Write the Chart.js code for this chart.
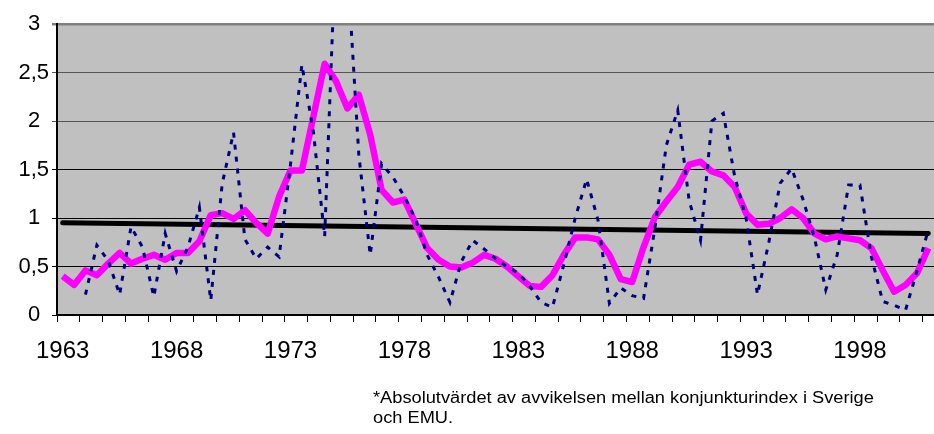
<!DOCTYPE html>
<html>
<head>
<meta charset="utf-8">
<script src="https://cdn.jsdelivr.net/npm/chart.js@4.4.1/dist/chart.umd.min.js"></script>
<style>
  html, body { margin: 0; padding: 0; background: #fff; }
  #wrap { position: relative; width: 934px; height: 434px; overflow: hidden; }
  #note {
    position: absolute; left: 373px; top: 388px;
    font-family: "Liberation Sans", Arial, sans-serif; font-size: 16px; line-height: 20px;
    color: #000; white-space: nowrap;
    transform: scaleX(1.14); transform-origin: 0 0;
  }
</style>
</head>
<body>
<div id="wrap">
  <canvas id="chart" width="934" height="434"></canvas>
  <div id="note">*Absolutvärdet av avvikelsen mellan konjunkturindex i Sverige<br>och EMU.</div>
</div>
<script>
// half-year periods, 1963 H1 .. 2001 H1
const firstYear = 1963;
const periodCount = 77;
const categories = [];
for (let i = 0; i < periodCount; i++) {
  categories.push((firstYear + Math.floor(i / 2)) + ':' + (i % 2 + 1));
}

const tickLabels = ['1963', '1968', '1973', '1978', '1983', '1988', '1993', '1998'];
const yTicks = [0, 0.5, 1, 1.5, 2, 2.5, 3];

// raw deviation (dotted)
const deviation = [
  null, null, 0.21, 0.72, 0.56, 0.21, 0.91, 0.70, 0.19, 0.84,
  0.45, 0.70, 1.11, 0.15, 1.35, 1.88, 0.78, 0.58, 0.70, 0.60,
  1.55, 2.58, 1.90, 0.81, 3.90, 3.60, 1.65, 0.62, 1.56, 1.42,
  1.22, 0.98, 0.62, 0.39, 0.13, 0.55, 0.77, 0.68, 0.58, 0.50,
  0.43, 0.30, 0.13, 0.08, 0.52, 1.00, 1.40, 0.98, 0.12, 0.28,
  0.20, 0.17, 0.90, 1.75, 2.11, 1.18, 0.77, 2.00, 2.08, 1.43,
  1.00, 0.21, 0.75, 1.36, 1.51, 1.19, 0.80, 0.26, 0.62, 1.34,
  1.34, 0.60, 0.14, 0.10, 0.05, 0.45, 0.88
];

// smoothed (magenta)
const smoothed = [
  0.40, 0.31, 0.46, 0.41, 0.53, 0.64, 0.53, 0.58, 0.62, 0.57,
  0.64, 0.64, 0.76, 1.03, 1.05, 0.99, 1.08, 0.95, 0.84, 1.22,
  1.49, 1.49, 2.04, 2.59, 2.41, 2.13, 2.27, 1.86, 1.29, 1.16,
  1.19, 0.94, 0.69, 0.57, 0.50, 0.49, 0.54, 0.62, 0.58, 0.50,
  0.40, 0.30, 0.29, 0.41, 0.62, 0.80, 0.80, 0.78, 0.62, 0.37,
  0.34, 0.70, 1.01, 1.17, 1.32, 1.55, 1.58, 1.48, 1.44, 1.32,
  1.05, 0.93, 0.94, 1.00, 1.09, 1.00, 0.84, 0.78, 0.81, 0.79,
  0.77, 0.69, 0.46, 0.24, 0.31, 0.43, 0.69
];

// linear trend, start and end
const trendStart = 0.95;
const trendEnd = 0.84;
const trend = categories.map((c, i) => i === 0 ? trendStart : (i === periodCount - 1 ? trendEnd : null));

const plotBg = {
  id: 'plotBg',
  beforeDraw(chart) {
    const { ctx, chartArea: a } = chart;
    ctx.save();
    ctx.fillStyle = '#C0C0C0';
    ctx.fillRect(a.left, a.top, a.right - a.left, a.bottom - a.top);
    ctx.restore();
  }
};

const font = 'Liberation Sans, Arial, sans-serif';

new Chart(document.getElementById('chart'), {
  type: 'line',
  data: {
    labels: categories,
    datasets: [
      {
        data: deviation,
        borderColor: '#000080',
        borderWidth: 3,
        borderDash: [5, 7],
        pointRadius: 0,
        tension: 0,
        order: 0
      },
      {
        data: smoothed,
        borderColor: '#FF00FF',
        borderWidth: 6.5,
        borderJoinStyle: 'round',
        pointRadius: 0,
        tension: 0,
        order: 1
      },
      {
        data: trend,
        borderColor: '#000000',
        borderWidth: 5,
        borderCapStyle: 'round',
        spanGaps: true,
        pointRadius: 0,
        order: 2
      }
    ]
  },
  options: {
    responsive: false,
    animation: false,
    devicePixelRatio: 1,
    layout: { padding: { top: 24, right: 0, left: 0, bottom: 0 } },
    plugins: { legend: { display: false }, tooltip: { enabled: false } },
    scales: {
      x: {
        offset: true,
        afterFit: (s) => { s.height = 119; s.paddingLeft = 0; s.paddingRight = 0; },
        grid: {
          offset: true,
          drawOnChartArea: false,
          tickLength: 7,
          color: (c) => (c.index === undefined || c.index % 2 === 0) ? '#000' : 'rgba(0,0,0,0)',
          lineWidth: 1
        },
        border: { color: '#000', width: 2 },
        ticks: {
          autoSkip: false,
          maxRotation: 0,
          padding: 15,
          color: '#000',
          font: { family: font, size: 24 },
          callback: (v, i) => i % 10 === 0 ? tickLabels[i / 10] : ''
        }
      },
      y: {
        min: 0,
        max: 3,
        afterFit: (s) => { s.width = 57; },
        afterBuildTicks: (s) => { s.ticks = yTicks.map(v => ({ value: v })); },
        grid: {
          tickLength: 5,
          color: (c) => c.tick && c.tick.value === 3 ? '#808080' : (c.tick && c.tick.value >= 2 ? '#555' : '#000'),
          lineWidth: (c) => c.tick && c.tick.value === 3 ? 2.5 : 1
        },
        border: { color: '#000', width: 2 },
        ticks: {
          padding: 3,
          color: '#000',
          font: { family: font, size: 22 },
          callback: (v) => String(v).replace('.', ',') + (Number.isInteger(v) ? '\u2009\u2009' : '')
        }
      }
    }
  },
  plugins: [plotBg]
});
</script>
</body>
</html>
